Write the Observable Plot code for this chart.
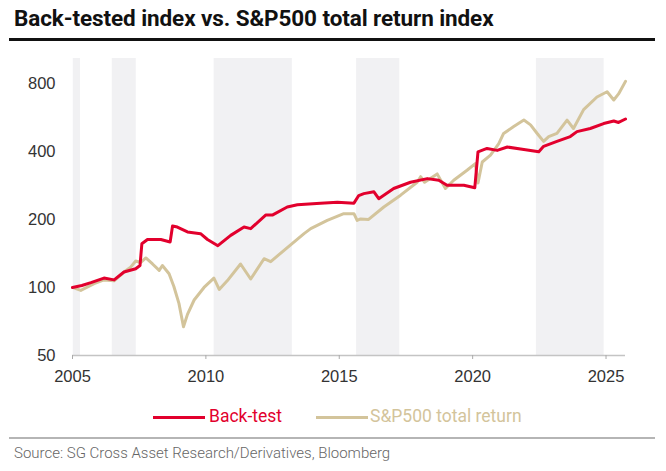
<!DOCTYPE html>
<html>
<head>
<meta charset="utf-8">
<script src="https://cdn.jsdelivr.net/npm/d3@7"></script>
<script src="https://cdn.jsdelivr.net/npm/@observablehq/plot@0.6"></script>
<style>
  body { margin: 0; background: #fff; width: 666px; height: 471px; position: relative; overflow: hidden; font-family: "Liberation Sans", Arial, sans-serif; }
  #title { position: absolute; left: 14px; top: 5px; font-family: "Roboto", sans-serif; font-weight: bold; font-size: 22.5px; color: #111; white-space: nowrap; letter-spacing: -0.1px; }
  #rule { position: absolute; left: 9px; top: 38px; width: 646px; height: 3px; background: #111; }
  #chart { position: absolute; left: 0; top: 45px; }
  #legend { position: absolute; top: 406px; left: 0; width: 666px; height: 22px; font-family: "Roboto", sans-serif; font-size: 17.5px; }
  .sw { position: absolute; top: 10px; height: 3px; width: 52px; }
  .lt { position: absolute; top: 0; white-space: nowrap; }
  #rule2 { position: absolute; left: 9px; top: 437px; width: 646px; height: 2px; background: #b5b5b5; }
  #source { position: absolute; left: 14px; top: 444px; font-family: "Roboto", sans-serif; font-weight: 300; font-size: 15px; color: #666; white-space: nowrap; }
</style>
</head>
<body>
<div id="title">Back-tested index vs. S&amp;P500 total return index</div>
<div id="rule"></div>
<div id="chart"></div>
<div id="legend"></div>
<div id="rule2"></div>
<div id="source">Source: SG Cross Asset Research/Derivatives, Bloomberg</div>
<script>
// ---- data ----
const seriesNames = ["Back-test", "S&P500 total return"];
const seriesColors = ["#e2002d", "#d3c49b"];

const backTestYears = [2005.0, 2005.35, 2005.69, 2006.18, 2006.56, 2006.93, 2007.37, 2007.53, 2007.6, 2007.81, 2008.31, 2008.66, 2008.75, 2008.93, 2009.31, 2009.8, 2010.06, 2010.45, 2010.93, 2011.43, 2011.68, 2012.24, 2012.49, 2013.05, 2013.43, 2014.3, 2014.93, 2015.55, 2015.73, 2015.92, 2016.3, 2016.48, 2017.04, 2017.67, 2018.3, 2018.73, 2019.04, 2019.67, 2020.08, 2020.2, 2020.54, 2020.92, 2021.3, 2021.92, 2022.48, 2022.66, 2023.16, 2023.66, 2023.91, 2024.41, 2024.91, 2025.29, 2025.47, 2025.73];
const backTestValues = [100, 102, 105, 110, 108, 117, 121, 125, 156, 163, 163, 159, 187, 185, 176, 173, 163, 153, 170, 185, 182, 209, 209, 227, 232, 236, 238, 236, 255, 260, 265, 247, 274, 292, 303, 298, 283, 283, 276, 398, 412, 404, 418, 408, 398, 421, 443, 465, 489, 505, 531, 545, 537, 556];

const spYears = [2005.0, 2005.31, 2005.81, 2006.18, 2006.56, 2006.93, 2007.18, 2007.37, 2007.56, 2007.75, 2008.0, 2008.25, 2008.37, 2008.62, 2008.8, 2008.99, 2009.16, 2009.31, 2009.56, 2009.93, 2010.3, 2010.5, 2010.8, 2011.3, 2011.68, 2012.18, 2012.43, 2012.93, 2013.68, 2013.93, 2014.55, 2015.17, 2015.55, 2015.67, 2015.8, 2016.1, 2016.67, 2017.3, 2017.92, 2018.05, 2018.2, 2018.67, 2018.98, 2019.29, 2019.79, 2020.1, 2020.2, 2020.36, 2020.67, 2020.98, 2021.16, 2021.54, 2021.92, 2022.17, 2022.42, 2022.66, 2022.85, 2023.16, 2023.54, 2023.78, 2024.16, 2024.66, 2025.04, 2025.29, 2025.47, 2025.73];
const spValues = [100, 97, 104, 108, 107, 117, 123, 131, 129, 135, 127, 119, 125, 115, 101, 85, 67, 76, 88, 100, 110, 98, 107, 127, 109, 134, 130, 146, 173, 182, 198, 212, 212, 198, 201, 200, 227, 256, 292, 309, 292, 318, 274, 298, 330, 353, 290, 359, 385, 433, 480, 515, 550, 524, 480, 443, 465, 480, 550, 505, 612, 696, 734, 675, 718, 816];

const shadeStart = [2005.03, 2006.49, 2010.31, 2015.65, 2022.39];
const shadeEnd   = [2005.3, 2007.39, 2013.24, 2017.27, 2024.93];

const xTicks = [2005, 2010, 2015, 2020, 2025];
const yTicks = [50, 100, 200, 400, 800];

// ---- build tables ----
const backTest = backTestYears.map((t, i) => ({t, v: backTestValues[i]}));
const sp = spYears.map((t, i) => ({t, v: spValues[i]}));
const shades = shadeStart.map((s, i) => ({s, e: shadeEnd[i]}));

const chart = Plot.plot({
  width: 666,
  height: 350,
  marginTop: 13,
  marginBottom: 40,
  marginLeft: 72,
  marginRight: 41,
  style: { fontFamily: '"Liberation Sans", Arial, sans-serif', fontSize: "16.5px", color: "#333", background: "transparent" },
  x: { domain: [2005, 2025.73], label: null },
  y: { type: "log", domain: [50, 1030], label: null, axis: null },
  marks: [
    Plot.rect(shades, { x1: "s", x2: "e", fill: "#f1f1f3" }),
    Plot.ruleY([50], { stroke: "#c4c4c4", strokeWidth: 1.5 }),
    Plot.axisX({ ticks: xTicks, tickFormat: d => String(d), tickSize: 4, tickPadding: 11, stroke: "#aaa", color: "#333", label: null }),
    Plot.text(yTicks, { y: d => d, text: d => String(d), frameAnchor: "left", dx: -17, textAnchor: "end", fill: "#333" }),
    Plot.line(sp, { x: "t", y: "v", stroke: seriesColors[1], strokeWidth: 3, curve: "linear" }),
    Plot.line(backTest, { x: "t", y: "v", stroke: seriesColors[0], strokeWidth: 3, curve: "linear" })
  ]
});
document.getElementById("chart").appendChild(chart);

// ---- legend ----
const legend = document.getElementById("legend");
const swLeft = [153, 316];
const txtLeft = [209, 370];
seriesNames.forEach((name, i) => {
  const sw = document.createElement("div");
  sw.className = "sw";
  sw.style.left = swLeft[i] + "px";
  sw.style.background = seriesColors[i];
  legend.appendChild(sw);
  const tx = document.createElement("div");
  tx.className = "lt";
  tx.style.left = txtLeft[i] + "px";
  tx.style.color = seriesColors[i];
  tx.textContent = name;
  legend.appendChild(tx);
});
</script>
</body>
</html>
